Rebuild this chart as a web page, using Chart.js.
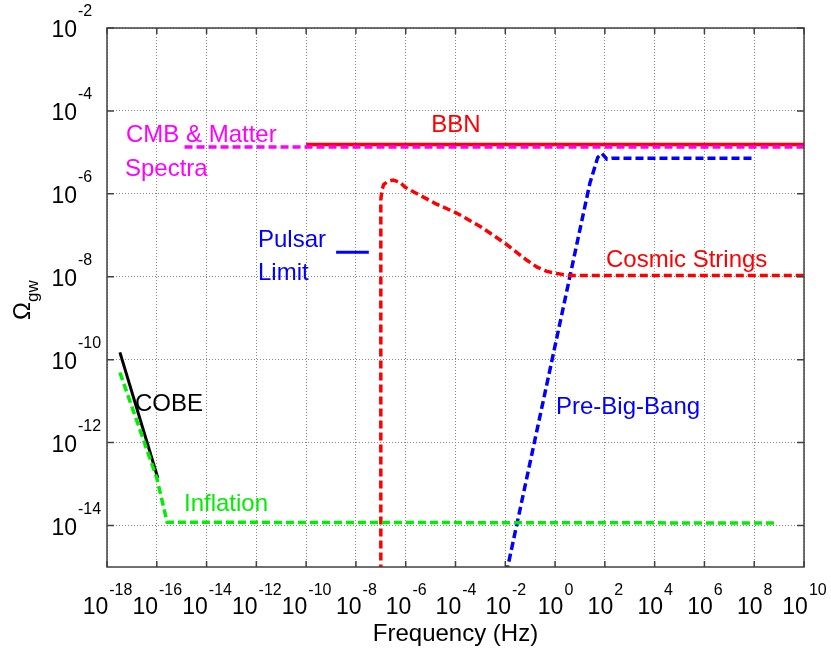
<!DOCTYPE html>
<html>
<head>
<meta charset="utf-8">
<script src="https://cdn.jsdelivr.net/npm/chart.js@4.4.0/dist/chart.umd.min.js"></script>
<style>
  html, body { margin: 0; padding: 0; background: #fff; }
  canvas { display: block; }
</style>
</head>
<body>
<canvas id="gw-chart" width="831" height="653"></canvas>
<script>
// tick powers of ten (every second decade)
const xTickPowers = [-18, -16, -14, -12, -10, -8, -6, -4, -2, 0, 2, 4, 6, 8, 10];
const yTickPowers = [-14, -12, -10, -8, -6, -4, -2];

// BBN bound
const bbnFreq = [1e-10, 1e10];
const bbnOmega = [1.55e-5, 1.55e-5];

// CMB & matter spectra
const cmbFreq = [1.3e-15, 1e10];
const cmbOmega = [1.35e-5, 1.35e-5];

// cosmic strings
const stringsFreq = [1e-7, 1e-7, 1.1e-7, 1.32e-7, 1.95e-7, 3.1e-7, 5.9e-7, 9.3e-7, 3.7e-6, 1.5e-5,
    1.15e-4, 9.5e-4, 9.5e-3, 0.074, 0.19, 0.47, 1.17, 3.9, 1e10];
const stringsOmega = [1e-16, 7.1e-7, 1.23e-6, 1.7e-6, 2.0e-6, 2.15e-6, 1.9e-6, 1.45e-6, 9.3e-7, 5.9e-7,
    3.4e-7, 1.66e-7, 6.5e-8, 2.5e-8, 1.7e-8, 1.35e-8, 1.2e-8, 1.07e-8, 1.07e-8];

// pre-big-bang
const pbbFreq = [5.5e-3, 25, 52, 76, 120, 190, 8.7e7];
const pbbOmega = [1e-16, 1.8e-6, 7.6e-6, 9.5e-6, 6.9e-6, 7.2e-6, 7.2e-6];

// pulsar limit
const pulsarFreq = [1.6e-9, 3.3e-8];
const pulsarOmega = [3.9e-8, 3.9e-8];

// COBE
const cobeFreq = [3.3e-18, 1.1e-16];
const cobeOmega = [1.5e-10, 1.4e-13];

// inflation
const inflationFreq = [3.3e-18, 1.0e-16, 2.6e-16, 9e8];
const inflationOmega = [4.9e-11, 1.4e-13, 1.2e-14, 1.15e-14];

const FONT = '"Liberation Sans", Arial, Helvetica, sans-serif';

// text labels inside the plot (pixel placement)
const notes = [
    { text: "BBN", x: 456, y: 132, color: "#ff0000", align: "center" },
    { text: "CMB & Matter", x: 126, y: 142, color: "#ff00ff", align: "left" },
    { text: "Spectra", x: 125, y: 176, color: "#ff00ff", align: "left" },
    { text: "Pulsar", x: 258, y: 247, color: "#0000ff", align: "left" },
    { text: "Limit", x: 258, y: 280, color: "#0000ff", align: "left" },
    { text: "COBE", x: 135, y: 411, color: "#000000", align: "left" },
    { text: "Inflation", x: 184, y: 511, color: "#00ee00", align: "left" },
    { text: "Cosmic Strings", x: 606, y: 267, color: "#ff0000", align: "left" },
    { text: "Pre-Big-Bang", x: 556, y: 414, color: "#0000ff", align: "left" }
];

function series(label, freq, omega, color, dash, width) {
    return {
        label: label,
        data: freq.map((f, i) => ({ x: f, y: omega[i] })),
        borderColor: color,
        backgroundColor: color,
        borderWidth: width,
        borderDash: dash,
        pointRadius: 0,
        fill: false,
        tension: 0
    };
}

const axisDecor = {
    id: 'axisDecor',
    afterDraw(chart) {
        const { ctx, chartArea: a, scales: { x, y } } = chart;
        ctx.save();

        // frame
        ctx.strokeStyle = "#404040";
        ctx.lineWidth = 1.5;
        ctx.setLineDash([]);
        ctx.strokeRect(a.left, a.top, a.right - a.left, a.bottom - a.top);

        // inward tick marks
        ctx.beginPath();
        xTickPowers.forEach(p => {
            const px = x.getPixelForValue(Math.pow(10, p));
            ctx.moveTo(px, a.bottom); ctx.lineTo(px, a.bottom - 6);
            ctx.moveTo(px, a.top); ctx.lineTo(px, a.top + 6);
        });
        yTickPowers.forEach(p => {
            const py = y.getPixelForValue(Math.pow(10, p));
            ctx.moveTo(a.left, py); ctx.lineTo(a.left + 7, py);
            ctx.moveTo(a.right, py); ctx.lineTo(a.right - 7, py);
        });
        ctx.stroke();

        // x tick labels 10^p, centred on tick
        ctx.fillStyle = "#000";
        ctx.textBaseline = "alphabetic";
        ctx.textAlign = "left";
        xTickPowers.forEach(p => {
            const px = x.getPixelForValue(Math.pow(10, p));
            ctx.font = "23px " + FONT;
            const wb = ctx.measureText("10").width;
            ctx.font = "16px " + FONT;
            const we = ctx.measureText(String(p)).width;
            const left = px - (wb + we) / 2;
            ctx.font = "23px " + FONT;
            ctx.fillText("10", left, a.bottom + 47);
            ctx.font = "16px " + FONT;
            ctx.fillText(String(p), left + wb + 1, a.bottom + 28);
        });

        // y tick labels
        yTickPowers.forEach(p => {
            const py = y.getPixelForValue(Math.pow(10, p));
            ctx.font = "23px " + FONT;
            ctx.textAlign = "right";
            ctx.fillText("10", a.left - 30, py + 9);
            ctx.font = "16px " + FONT;
            ctx.textAlign = "left";
            ctx.fillText(String(p), a.left - 29, py - 12);
        });

        // axis titles
        ctx.font = "24px " + FONT;
        ctx.textAlign = "center";
        ctx.fillText("Frequency (Hz)", (a.left + a.right) / 2, 641);

        ctx.save();
        ctx.translate(30, 320);
        ctx.rotate(-Math.PI / 2);
        ctx.textAlign = "left";
        ctx.font = "24px " + FONT;
        ctx.fillText("\u03A9", 0, 0);
        const wo = ctx.measureText("\u03A9").width;
        ctx.font = "17px " + FONT;
        ctx.fillText("gw", wo, 8);
        ctx.restore();

        // curve labels
        ctx.font = "24px " + FONT;
        notes.forEach(n => {
            ctx.fillStyle = n.color;
            ctx.textAlign = n.align;
            ctx.fillText(n.text, n.x, n.y);
        });

        ctx.restore();
    }
};

const gwChart = new Chart(document.getElementById("gw-chart"), {
    type: 'line',
    data: {
        datasets: [
            series("CMB & Matter Spectra", cmbFreq, cmbOmega, "#ff00ff", [8, 4], 3.5),
            series("BBN", bbnFreq, bbnOmega, "#ff0000", [], 3.5),
            series("Inflation", inflationFreq, inflationOmega, "#00ee00", [8, 4], 3.5),
            series("COBE", cobeFreq, cobeOmega, "#000000", [], 3),
            series("Pulsar Limit", pulsarFreq, pulsarOmega, "#0000ff", [], 3),
            series("Cosmic Strings", stringsFreq, stringsOmega, "#ff0000", [8, 4], 3.5),
            series("Pre-Big-Bang", pbbFreq, pbbOmega, "#0000ff", [8, 4], 3.5)
        ]
    },
    options: {
        responsive: false,
        animation: false,
        layout: {
            padding: { left: 107, right: 27, top: 28, bottom: 86 }
        },
        scales: {
            x: {
                type: 'logarithmic',
                min: 1e-18,
                max: 1e10,
                afterBuildTicks: axis => {
                    axis.ticks = xTickPowers.map(p => ({ value: Math.pow(10, p) }));
                },
                ticks: { display: false },
                grid: { color: "#888", lineWidth: 1, drawTicks: false },
                border: { display: false, dash: [1, 2] }
            },
            y: {
                type: 'logarithmic',
                min: 1e-15,
                max: 1e-2,
                afterBuildTicks: axis => {
                    axis.ticks = yTickPowers.map(p => ({ value: Math.pow(10, p) }));
                },
                ticks: { display: false },
                grid: { color: "#888", lineWidth: 1, drawTicks: false },
                border: { display: false, dash: [1, 2] }
            }
        },
        plugins: {
            legend: { display: false },
            tooltip: { enabled: false }
        }
    },
    plugins: [axisDecor]
});
</script>
</body>
</html>
